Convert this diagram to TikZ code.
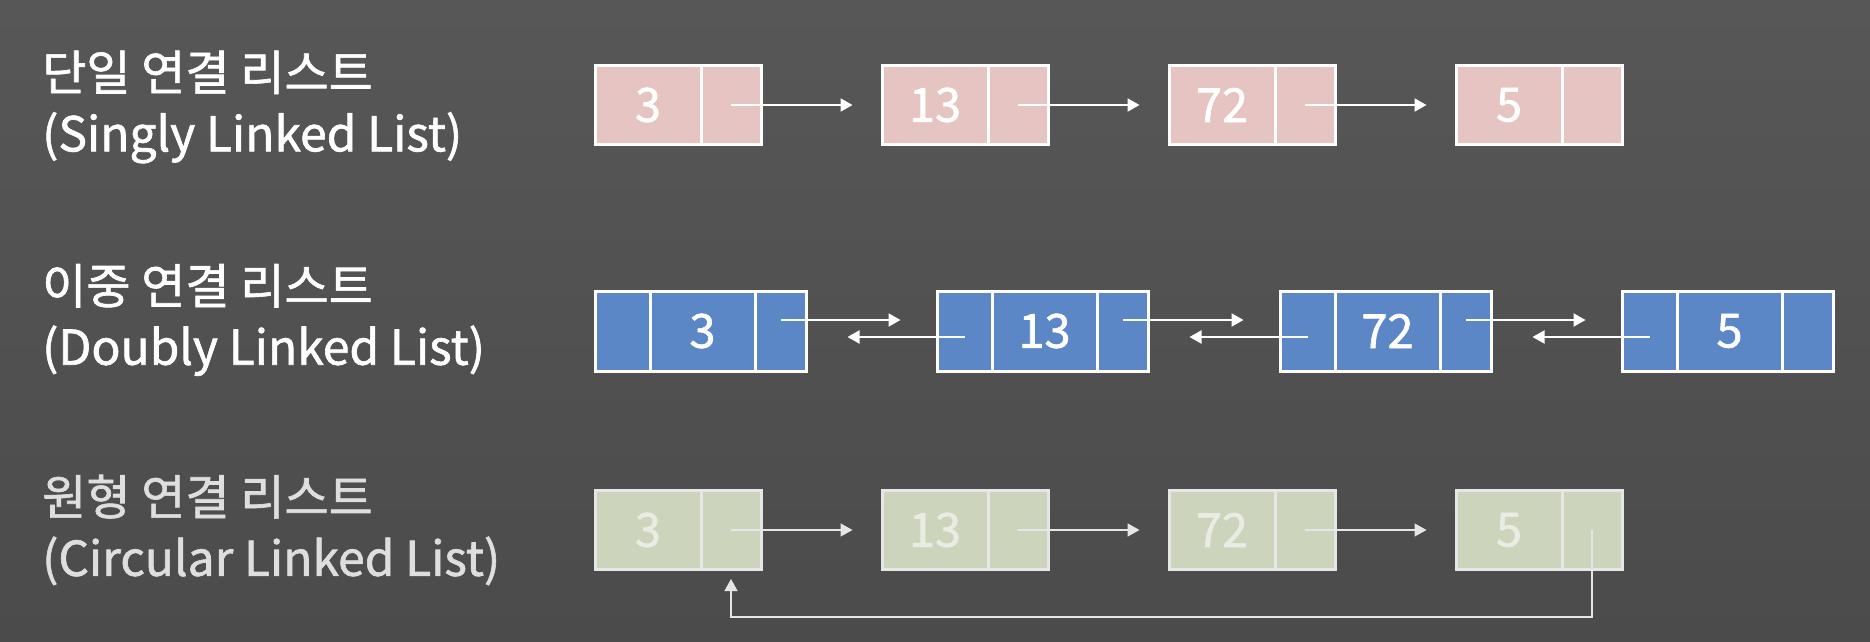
\documentclass[tikz,border=0pt]{standalone}
\usepackage{fontspec}
\setmainfont{Noto Sans CJK KR}
\newfontfamily\labelfont{Noto Sans CJK KR}[FakeBold=1.3]
\usepackage{tikz}
\usetikzlibrary{arrows.meta,positioning}
\definecolor{slidetop}{HTML}{575757}
\definecolor{slidebottom}{HTML}{4B4B4B}
\definecolor{singlyfill}{HTML}{E5C4C1}
\definecolor{doublyfill}{HTML}{5B87C6}
\definecolor{circfill}{HTML}{CCD4BC}
\definecolor{circline}{HTML}{E6E6E6}
\definecolor{circtext}{HTML}{E9ECE2}
\definecolor{circlabel}{HTML}{DEDEDE}
\tikzset{
  listlabel/.style={anchor=west, align=left, inner sep=0pt, text=white, font=\labelfont\fontsize{48}{61}\selectfont},
  cellbox/.style={draw=white, line width=3pt, minimum height=78pt, inner sep=0pt, text=white, font=\labelfont\fontsize{47}{47}\selectfont},
  sdata/.style={cellbox, fill=singlyfill, minimum width=106pt},
  sptr/.style={cellbox, fill=singlyfill, minimum width=60pt},
  dprev/.style={cellbox, fill=doublyfill, minimum width=55pt, minimum height=80pt},
  ddata/.style={cellbox, fill=doublyfill, minimum width=105pt, minimum height=80pt},
  dnext/.style={cellbox, fill=doublyfill, minimum width=51pt, minimum height=80pt},
  cdata/.style={cellbox, draw=circline, fill=circfill, text=circtext, minimum width=106pt, minimum height=79pt},
  cptr/.style={cellbox, draw=circline, fill=circfill, minimum width=60pt, minimum height=79pt},
  ptrarrow/.style={-{Triangle[length=12pt,width=13pt]}, draw=white, line width=2pt},
  circarrow/.style={ptrarrow, draw=circline, line width=1.6pt}
}
\begin{document}
\begin{tikzpicture}[x=1pt, y=-1pt]
\fill[top color=slidetop, bottom color=slidebottom] (0,0) rectangle (1870,642);
\useasboundingbox (0,0) rectangle (1870,642);
% labels
\node[listlabel] (singlylabel) at (42,107) {단일 연결 리스트\\(Singly Linked List)};
\node[listlabel] (doublylabel) at (42,320) {이중 연결 리스트\\(Doubly Linked List)};
\node[listlabel, text=circlabel] (circlabel) at (42,530) {원형 연결 리스트\\(Circular Linked List)};
% singly linked list
\node[sdata] (s1) at (648,105) {3};
\node[sptr] (s1p) at (731,105) {};
\node[sdata] (s2) at (935,105) {13};
\node[sptr] (s2p) at (1018,105) {};
\node[sdata] (s3) at (1222,105) {72};
\node[sptr] (s3p) at (1305,105) {};
\node[sdata] (s4) at (1509,105) {5};
\node[sptr] (s4p) at (1592,105) {};
\draw[ptrarrow] (s1p.center) -- ([xshift=-28pt]s2.west);
\draw[ptrarrow] (s2p.center) -- ([xshift=-28pt]s3.west);
\draw[ptrarrow] (s3p.center) -- ([xshift=-28pt]s4.west);
% doubly linked list
\node[dprev] (d1p) at (622.5,331) {};
\node[ddata] (d1) at (702.5,331) {3};
\node[dnext] (d1n) at (780.5,331) {};
\node[dprev] (d2p) at (964.5,331) {};
\node[ddata] (d2) at (1044.5,331) {13};
\node[dnext] (d2n) at (1122.5,331) {};
\node[dprev] (d3p) at (1307.5,331) {};
\node[ddata] (d3) at (1387.5,331) {72};
\node[dnext] (d3n) at (1465.5,331) {};
\node[dprev] (d4p) at (1649.5,331) {};
\node[ddata] (d4) at (1729.5,331) {5};
\node[dnext] (d4n) at (1807.5,331) {};
\draw[ptrarrow] ([yshift=11pt]d1n.center) -- ([xshift=-35pt,yshift=11pt]d2p.west);
\draw[ptrarrow] ([yshift=-6pt]d2p.center) -- ([xshift=40pt,yshift=-6pt]d1n.east);
\draw[ptrarrow] ([yshift=11pt]d2n.center) -- ([xshift=-35pt,yshift=11pt]d3p.west);
\draw[ptrarrow] ([yshift=-6pt]d3p.center) -- ([xshift=40pt,yshift=-6pt]d2n.east);
\draw[ptrarrow] ([yshift=11pt]d3n.center) -- ([xshift=-35pt,yshift=11pt]d4p.west);
\draw[ptrarrow] ([yshift=-6pt]d4p.center) -- ([xshift=40pt,yshift=-6pt]d3n.east);
% circular linked list
\node[cdata] (c1) at (648,530) {3};
\node[cptr] (c1p) at (731,530) {};
\node[cdata] (c2) at (935,530) {13};
\node[cptr] (c2p) at (1018,530) {};
\node[cdata] (c3) at (1222,530) {72};
\node[cptr] (c3p) at (1305,530) {};
\node[cdata] (c4) at (1509,530) {5};
\node[cptr] (c4p) at (1592,530) {};
\draw[circarrow] (c1p.center) -- ([xshift=-28pt]c2.west);
\draw[circarrow] (c2p.center) -- ([xshift=-28pt]c3.west);
\draw[circarrow] (c3p.center) -- ([xshift=-28pt]c4.west);
\draw[circarrow] (c4p.center) -- ++(0,87) -| ([yshift=-8pt]c1p.south);
\end{tikzpicture}
\end{document}
